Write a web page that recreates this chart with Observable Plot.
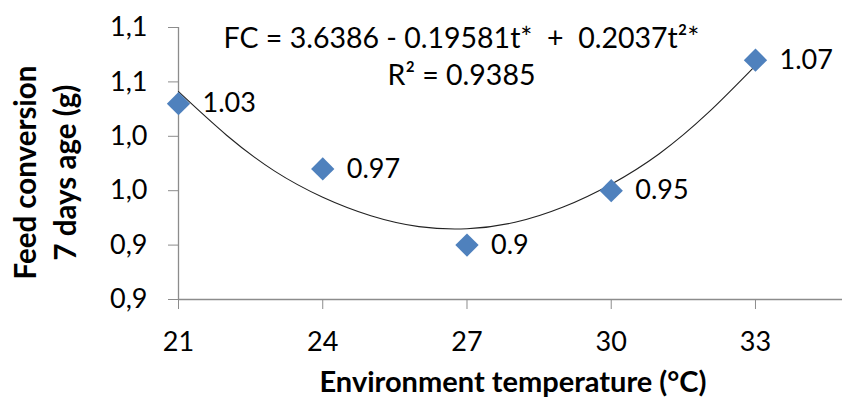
<!DOCTYPE html>
<html>
<head>
<meta charset="utf-8">
<script src="https://cdn.jsdelivr.net/npm/d3@7"></script>
<script src="https://cdn.jsdelivr.net/npm/@observablehq/plot@0.6"></script>
<style>
  html, body { margin: 0; padding: 0; background: #fff; }
  #chart svg { display: block; }
</style>
</head>
<body>
<div id="chart"></div>
<script>
// Observed points
const temps = [21, 24, 27, 30, 33];
const fcValues = [1.03, 0.97, 0.90, 0.95, 1.07];
const pointLabels = ["1.03", "0.97", "0.9", "0.95", "1.07"];

// Trend curve
const curveT = [21, 22, 23, 24, 25, 26, 27, 28, 29, 30, 31, 32, 33];
const curveFC = [1.041, 1.001, 0.968, 0.944, 0.927, 0.917, 0.915, 0.921, 0.935, 0.956, 0.984, 1.021, 1.065];

// Axis ticks
const xTicks = [21, 24, 27, 30, 33];
const yTicks = [0.85, 0.90, 0.95, 1.00, 1.05, 1.10];
const yTickLabels = ["0,9", "0,9", "1,0", "1,0", "1,1", "1,1"];

// Texts
const equationText = "FC = 3.6386 - 0.19581t*\u00a0 +\u00a0 0.2037t²*";
const r2Text = "R² = 0.9385";
const xTitle = "Environment temperature (°C)";
const yTitle = "Feed conversion\n7 days age (g)";

const points = temps.map((t, i) => ({t, fc: fcValues[i], label: pointLabels[i]}));
const curve = curveT.map((t, i) => ({t, fc: curveFC[i]}));

const axisGray = "#8c8c8c";
const font = "Lato, 'Open Sans', sans-serif";

const chart = Plot.plot({
  width: 842,
  height: 400,
  marginLeft: 178,
  marginRight: 0,
  marginTop: 27,
  marginBottom: 101,
  style: {fontFamily: font, fontSize: "27px", color: "#000", background: "#fff"},
  x: {domain: [21, 34.81]},
  y: {domain: [0.85, 1.10]},
  marks: [
    Plot.axisY({ticks: yTicks, tickFormat: (d) => yTickLabels[yTicks.indexOf(d)], tickSize: 10, tickPadding: 21,
      stroke: axisGray, fill: "#000", fontSize: 27, label: null}),
    Plot.axisX({ticks: xTicks, tickFormat: (d) => String(d), tickSize: 10, tickPadding: 22,
      stroke: axisGray, fill: "#000", fontSize: 27, label: null}),
    Plot.ruleX([21], {stroke: axisGray, strokeWidth: 1.3}),
    Plot.ruleY([0.85], {stroke: axisGray, strokeWidth: 1.3}),
    Plot.line(curve, {x: "t", y: "fc", curve: "natural", stroke: "#222", strokeWidth: 1.1}),
    Plot.dot(points, {x: "t", y: "fc", symbol: "diamond2", r: 10.5, fill: "#4F81BD", stroke: "none"}),
    Plot.text(points, {x: "t", y: "fc", text: "label", textAnchor: "start", dx: 24, fontSize: 27, fill: "#000"}),
    Plot.text([equationText], {frameAnchor: "top-left", dx: 283, dy: 11, textAnchor: "middle", lineAnchor: "middle", fontSize: 28.5, fill: "#000"}),
    Plot.text([r2Text], {frameAnchor: "top-left", dx: 283, dy: 48, textAnchor: "middle", lineAnchor: "middle", fontSize: 28.5, fill: "#000"}),
    Plot.text([xTitle], {frameAnchor: "bottom", dx: 512.5 - (178 + 842) / 2, dy: 83, textAnchor: "middle", lineAnchor: "middle", fontSize: 29, fontWeight: "bold", fill: "#000"}),
    Plot.text([yTitle], {frameAnchor: "left", rotate: -90, dx: -135, dy: 9, textAnchor: "middle", lineAnchor: "middle", lineHeight: 1.35, fontSize: 29.5, fontWeight: "bold", fill: "#000"})
  ]
});

document.getElementById("chart").appendChild(chart);
</script>
</body>
</html>
